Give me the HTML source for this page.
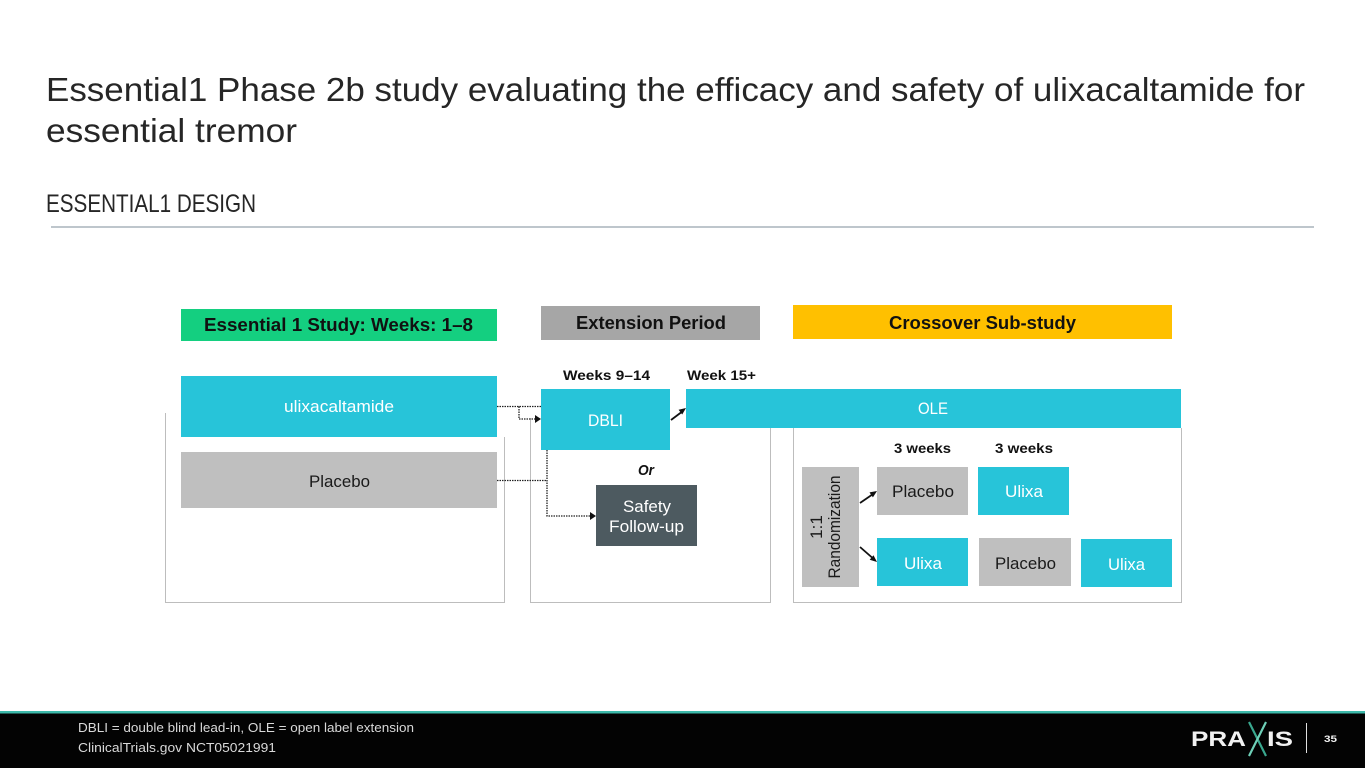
<!DOCTYPE html>
<html><head><meta charset="utf-8"><style>
html,body{margin:0;padding:0;background:#fff;}
svg{display:block;}
text{font-family:"Liberation Sans",sans-serif;}
</style></head><body>
<svg width="1365" height="768" viewBox="0 0 1365 768" xmlns="http://www.w3.org/2000/svg">
<rect x="0" y="0" width="1365" height="768" fill="#fff"/>
<!-- Title -->
<text x="46" y="101" font-size="33" fill="#262626" textLength="1259" lengthAdjust="spacingAndGlyphs">Essential1 Phase 2b study evaluating the efficacy and safety of ulixacaltamide for</text>
<text x="46" y="142" font-size="33" fill="#262626" textLength="251" lengthAdjust="spacingAndGlyphs">essential tremor</text>
<text x="46" y="212" font-size="25" fill="#262626" textLength="210" lengthAdjust="spacingAndGlyphs">ESSENTIAL1 DESIGN</text>
<line x1="51" y1="227" x2="1314" y2="227" stroke="#a9b4bb" stroke-width="1.5"/>

<!-- Outline boxes -->
<path d="M165.5,413 V602.5 H504.5 V437" fill="none" stroke="#bdbdbd" stroke-width="1"/>
<path d="M530.5,418 V602.5 H770.5 V428" fill="none" stroke="#bdbdbd" stroke-width="1"/>
<path d="M793.5,428 V602.5 H1181.5 V428" fill="none" stroke="#bdbdbd" stroke-width="1"/>

<!-- Headers -->
<rect x="181" y="309" width="316" height="32" fill="#14cf80"/>
<text x="204" y="331" font-size="18" font-weight="bold" fill="#111" textLength="269" lengthAdjust="spacingAndGlyphs">Essential 1 Study: Weeks: 1–8</text>
<rect x="541" y="306" width="219" height="34" fill="#a6a6a6"/>
<text x="576" y="329" font-size="18" font-weight="bold" fill="#111" textLength="150" lengthAdjust="spacingAndGlyphs">Extension Period</text>
<rect x="793" y="305" width="379" height="34" fill="#ffc000"/>
<text x="889" y="329" font-size="18" font-weight="bold" fill="#111" textLength="187" lengthAdjust="spacingAndGlyphs">Crossover Sub-study</text>

<!-- Left boxes -->
<rect x="181" y="376" width="316" height="61" fill="#27c4d9"/>
<text x="284" y="412" font-size="17" fill="#fff" textLength="110" lengthAdjust="spacingAndGlyphs">ulixacaltamide</text>
<rect x="181" y="452" width="316" height="56" fill="#bfbfbf"/>
<text x="309" y="487" font-size="17" fill="#1a1a1a" textLength="61" lengthAdjust="spacingAndGlyphs">Placebo</text>

<!-- Middle -->
<text x="563" y="380" font-size="14" font-weight="bold" fill="#111" textLength="87" lengthAdjust="spacingAndGlyphs">Weeks 9–14</text>
<text x="687" y="380" font-size="14" font-weight="bold" fill="#111" textLength="69" lengthAdjust="spacingAndGlyphs">Week 15+</text>
<rect x="541" y="389" width="129" height="61" fill="#27c4d9"/>
<text x="588" y="426" font-size="17" fill="#fff" textLength="35" lengthAdjust="spacingAndGlyphs">DBLI</text>
<text x="638" y="475" font-size="15" font-weight="bold" font-style="italic" fill="#111" textLength="16" lengthAdjust="spacingAndGlyphs">Or</text>
<rect x="596" y="485" width="101" height="61" fill="#4d5a60"/>
<text x="623" y="512" font-size="17" fill="#fff" textLength="48" lengthAdjust="spacingAndGlyphs">Safety</text>
<text x="609" y="532" font-size="17" fill="#fff" textLength="75" lengthAdjust="spacingAndGlyphs">Follow-up</text>

<!-- OLE -->
<rect x="686" y="389" width="495" height="39" fill="#27c4d9"/>
<text x="918" y="414" font-size="17" fill="#fff" textLength="30" lengthAdjust="spacingAndGlyphs">OLE</text>

<!-- Dotted connectors -->
<g fill="none" stroke="#222" stroke-width="1.3" stroke-dasharray="1.5,1">
<path d="M497,406.5 H541"/>
<path d="M519,406.5 V419 H536"/>
<path d="M497,480.5 H547"/>
<path d="M547,450 V516 H590"/>
</g>
<polygon points="535,415 541,419 535,423" fill="#111"/>
<polygon points="590,512 596,516 590,520" fill="#111"/>

<!-- DBLI -> OLE arrow -->
<line x1="671" y1="420" x2="681" y2="412.5" stroke="#111" stroke-width="1.8"/>
<polygon points="686,408 682.2,414.5 678.6,409.7" fill="#111"/>

<!-- Crossover -->
<text x="894" y="453" font-size="14" font-weight="bold" fill="#111" textLength="57" lengthAdjust="spacingAndGlyphs">3 weeks</text>
<text x="995" y="453" font-size="14" font-weight="bold" fill="#111" textLength="58" lengthAdjust="spacingAndGlyphs">3 weeks</text>

<rect x="802" y="467" width="57" height="120" fill="#bfbfbf"/>
<text transform="translate(822,527) rotate(-90)" text-anchor="middle" font-size="17" fill="#1a1a1a">1:1</text>
<text transform="translate(840,527) rotate(-90)" text-anchor="middle" font-size="17" fill="#1a1a1a" textLength="103" lengthAdjust="spacingAndGlyphs">Randomization</text>

<rect x="877" y="467" width="91" height="48" fill="#bfbfbf"/>
<text x="892" y="497" font-size="17" fill="#1a1a1a" textLength="62" lengthAdjust="spacingAndGlyphs">Placebo</text>
<rect x="978" y="467" width="91" height="48" fill="#27c4d9"/>
<text x="1005" y="497" font-size="17" fill="#fff" textLength="38" lengthAdjust="spacingAndGlyphs">Ulixa</text>

<rect x="877" y="538" width="91" height="48" fill="#27c4d9"/>
<text x="904" y="569" font-size="17" fill="#fff" textLength="38" lengthAdjust="spacingAndGlyphs">Ulixa</text>
<rect x="979" y="538" width="92" height="48" fill="#bfbfbf"/>
<text x="995" y="569" font-size="17" fill="#1a1a1a" textLength="61" lengthAdjust="spacingAndGlyphs">Placebo</text>
<rect x="1081" y="539" width="91" height="48" fill="#27c4d9"/>
<text x="1108" y="570" font-size="17" fill="#fff" textLength="37" lengthAdjust="spacingAndGlyphs">Ulixa</text>

<line x1="860" y1="503" x2="872" y2="494.8" stroke="#111" stroke-width="1.8"/>
<polygon points="877,491 872.9,497.4 869.5,492.4" fill="#111"/>
<line x1="860" y1="547" x2="872" y2="557.5" stroke="#111" stroke-width="1.8"/>
<polygon points="877,562 869.7,559.8 873.5,555.2" fill="#111"/>

<!-- Footer -->
<rect x="0" y="713" width="1365" height="55" fill="#030303"/>
<rect x="0" y="711" width="1365" height="2.5" fill="#3db9aa"/>
<text x="78" y="732" font-size="13" fill="#d9d9d9" textLength="336" lengthAdjust="spacingAndGlyphs">DBLI = double blind lead-in, OLE = open label extension</text>
<text x="78" y="752" font-size="13" fill="#d9d9d9" textLength="198" lengthAdjust="spacingAndGlyphs">ClinicalTrials.gov NCT05021991</text>

<text x="1191" y="746" font-size="21" font-weight="bold" fill="#f2f2f2" textLength="55" lengthAdjust="spacingAndGlyphs">PRA</text>
<line x1="1249" y1="722" x2="1266" y2="756" stroke="#3aa88f" stroke-width="2.2"/>
<line x1="1266" y1="722" x2="1249" y2="756" stroke="#6fd0b8" stroke-width="2.2"/>
<text x="1267" y="746" font-size="21" font-weight="bold" fill="#f2f2f2" textLength="26" lengthAdjust="spacingAndGlyphs">IS</text>
<line x1="1306.5" y1="723" x2="1306.5" y2="753" stroke="#e0e0e0" stroke-width="1"/>
<text x="1324" y="742" font-size="9.5" font-weight="bold" fill="#f2f2f2" textLength="13" lengthAdjust="spacingAndGlyphs">35</text>
</svg>
</body></html>
